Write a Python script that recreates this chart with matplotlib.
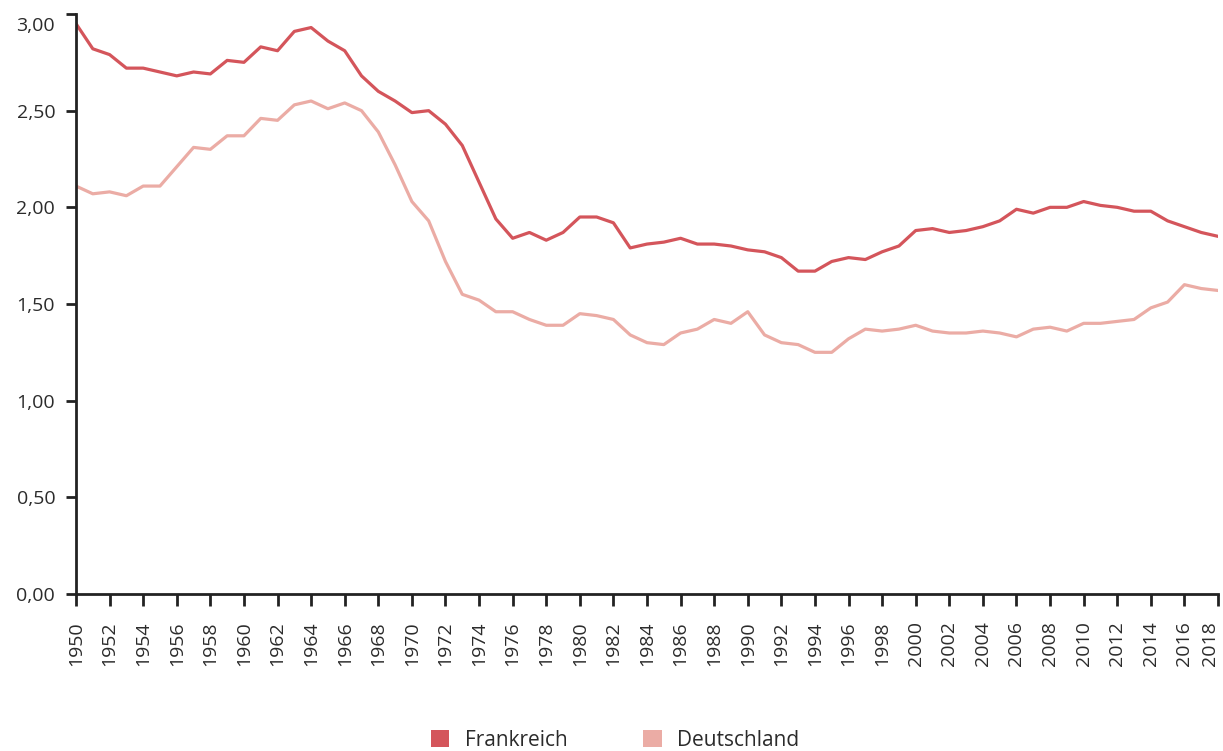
import numpy as np
import matplotlib
matplotlib.use('Agg')
import matplotlib.pyplot as plt
import matplotlib.transforms as mtransforms
from matplotlib.patches import Patch

years = list(range(1950, 2019))

frankreich = [
    2.95, 2.82, 2.79, 2.72, 2.72, 2.70, 2.68, 2.70, 2.69, 2.76,
    2.75, 2.83, 2.81, 2.91, 2.93, 2.86, 2.81, 2.68, 2.60, 2.55,
    2.49, 2.50, 2.43, 2.32, 2.13, 1.94, 1.84, 1.87, 1.83, 1.87,
    1.95, 1.95, 1.92, 1.79, 1.81, 1.82, 1.84, 1.81, 1.81, 1.80,
    1.78, 1.77, 1.74, 1.67, 1.67, 1.72, 1.74, 1.73, 1.77, 1.80,
    1.88, 1.89, 1.87, 1.88, 1.90, 1.93, 1.99, 1.97, 2.00, 2.00,
    2.03, 2.01, 2.00, 1.98, 1.98, 1.93, 1.90, 1.87, 1.85,
]

deutschland = [
    2.11, 2.07, 2.08, 2.06, 2.11, 2.11, 2.21, 2.31, 2.30, 2.37,
    2.37, 2.46, 2.45, 2.53, 2.55, 2.51, 2.54, 2.50, 2.39, 2.22,
    2.03, 1.93, 1.72, 1.55, 1.52, 1.46, 1.46, 1.42, 1.39, 1.39,
    1.45, 1.44, 1.42, 1.34, 1.30, 1.29, 1.35, 1.37, 1.42, 1.40,
    1.46, 1.34, 1.30, 1.29, 1.25, 1.25, 1.32, 1.37, 1.36, 1.37,
    1.39, 1.36, 1.35, 1.35, 1.36, 1.35, 1.33, 1.37, 1.38, 1.36,
    1.40, 1.40, 1.41, 1.42, 1.48, 1.51, 1.60, 1.58, 1.57,
]

series_names = ['Frankreich', 'Deutschland']
colors = ['#d4555b', '#ebaca5']
y_ticks = [0.0, 0.5, 1.0, 1.5, 2.0, 2.5, 3.0]
x_ticks = list(range(1950, 2019, 2))

plt.rcParams['font.family'] = ['Open Sans', 'DejaVu Sans']
TXT = '#2b2b2b'
FS = 14
YLEN, YPAD = 7, 8
XLEN, XPAD = 8.5, 11

fig = plt.figure(figsize=(12.23, 7.51), dpi=100)
ax = fig.add_axes([76 / 1223, 157 / 751, (1218 - 76) / 1223, (594 - 14) / 751])

ax.plot(years, frankreich, color=colors[0], lw=2.3)
ax.plot(years, deutschland, color=colors[1], lw=2.3)

ax.set_xlim(1950, 2018)
ax.set_ylim(0, 3.0)
ax.set_yticks(y_ticks)
ylabels = [f'{v:.2f}'.replace('.', ',') for v in y_ticks]
ax.set_yticklabels(ylabels[:-1] + [''])
ax.set_xticks(x_ticks)
xlabels = [str(y) for y in x_ticks]
ax.set_xticklabels(xlabels[:-1] + [''], rotation=90)

for s in ['top', 'right']:
    ax.spines[s].set_visible(False)
for s in ['left', 'bottom']:
    ax.spines[s].set_linewidth(2)
    ax.spines[s].set_color('#222222')
ax.tick_params(axis='both', colors='#222222', width=2, labelsize=FS, labelcolor=TXT)
ax.tick_params(axis='y', length=YLEN, pad=YPAD)
ax.tick_params(axis='x', length=XLEN, pad=XPAD)

# top y label sits lower, last x label shifted left so both stay inside the figure
off = mtransforms.ScaledTranslation(-(YLEN + YPAD) / 72, -12 / 100, fig.dpi_scale_trans)
ax.text(0, y_ticks[-1], ylabels[-1], transform=ax.get_yaxis_transform() + off,
        ha='right', va='center', fontsize=FS, color=TXT)
off = mtransforms.ScaledTranslation(-8 / 100, -(XLEN + XPAD) / 72, fig.dpi_scale_trans)
ax.text(x_ticks[-1], 0, xlabels[-1], transform=ax.get_xaxis_transform() + off,
        ha='center', va='top', rotation=90, fontsize=FS, color=TXT)

handles = [Patch(facecolor=c, edgecolor='none') for c in colors]
fig.legend(handles, series_names, loc='center', bbox_to_anchor=(615 / 1223, 1 - 740 / 751),
           ncol=2, frameon=False, fontsize=15, handlelength=0.9, handleheight=0.9,
           columnspacing=3.6, handletextpad=0.75, labelcolor=TXT)

plt.savefig('out.png', dpi=100)
plt.close()
